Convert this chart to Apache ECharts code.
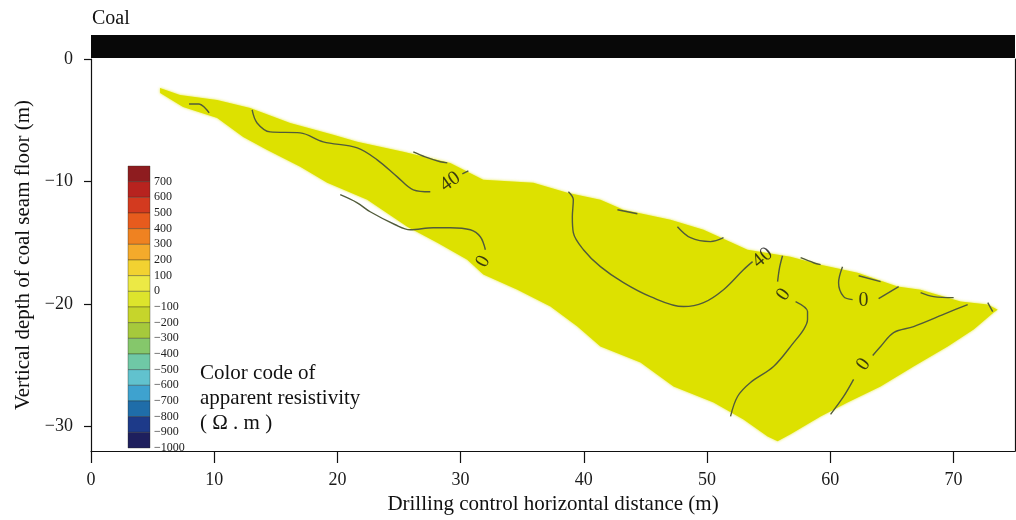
<!DOCTYPE html>
<html>
<head>
<meta charset="utf-8">
<script src="https://cdn.jsdelivr.net/npm/echarts@6/dist/echarts.min.js"></script>
<style>
  html, body { margin: 0; padding: 0; background: #fff; }
  #chart { width: 1016px; height: 520px; }
</style>
</head>
<body>
<div id="chart"></div>
<script>
// Axis ticks
const xTicks = [0, 10, 20, 30, 40, 50, 60, 70];
const yTicks = [0, -10, -20, -30];

// Coal seam above the floor (x range, thickness in m)
const coalLayer = [[0, 75, 0, 1]];

// Colour code of apparent resistivity (Ω·m), top to bottom
const scaleLevels = [700, 600, 500, 400, 300, 200, 100, 0, -100, -200, -300, -400, -500, -600, -700, -800, -900, -1000];
const scaleColors = ['#8e1c1f', '#b7231f', '#d33a1f', '#e75b1d', '#ef8221', '#f4aa2b', '#f2d231', '#ece945',
                     '#dde42c', '#c6d52b', '#a6c93c', '#85c76b', '#6fc8a6', '#61c2ce', '#3ea2cf', '#1f6da9',
                     '#1d3a89', '#1e1f5d'];

// Surveyed zone outline (x, depth)
const zoneOutline = [
  [5.6, -2.36], [7.23, -2.93], [10.24, -3.34], [12.92, -3.99], [16.17, -5.22], [19.66, -6.19],
  [21.61, -6.76], [25.35, -7.58], [29.16, -8.48], [31.84, -9.86], [35.91, -10.11], [38.67, -10.92],
  [41.35, -11.49], [43.22, -12.31], [47.04, -13.12], [49.72, -13.94], [53.29, -15.57], [56.78, -16.14],
  [59.22, -16.79], [62.23, -17.44], [65.47, -18.58], [67.34, -18.83], [70.59, -19.8], [72.79, -20.05],
  [73.6, -20.46], [73.27, -20.7], [71.65, -22.09], [69.54, -23.47], [66.77, -25.1], [64.09, -26.73],
  [61.41, -28.04], [59.22, -29.18], [56.78, -30.64], [55.73, -31.21], [54.92, -30.81], [52.96, -29.42],
  [50.53, -28.04], [47.28, -26.73], [44.6, -24.78], [41.35, -23.47], [39.48, -21.84], [37.29, -20.21],
  [34.61, -18.83], [31.84, -17.6], [30.54, -16.38], [28.11, -15.0], [25.67, -13.69], [22.42, -11.49],
  [19.17, -10.11], [16.98, -8.8], [14.3, -7.42], [12.35, -6.36], [10.24, -4.81], [7.47, -3.91], [5.61, -2.77]
];

// Resistivity contours (x, depth)
const c40a = [[13.08, -4.16], [13.48, -5.22], [14.54, -5.95], [16.98, -6.03], [18.85, -6.76], [21.61, -7.25],
              [23.23, -8.23], [24.86, -9.62], [26.16, -10.68], [27.54, -10.84]];
const c40aEnd = [[30.14, -9.37], [30.63, -9.13]];
const c40b = [[38.75, -10.84], [39.15, -11.49], [39.07, -12.88], [39.15, -14.18], [39.97, -15.57], [41.35, -16.95],
              [43.22, -18.26], [45.41, -19.4], [48.09, -20.21], [49.72, -19.89], [51.34, -18.83], [52.96, -17.2],
              [53.7, -16.54]];
const c0a = [[20.23, -11.08], [21.61, -11.74], [22.66, -12.47], [24.7, -13.53], [25.91, -13.94], [27.78, -13.77],
             [29.16, -13.77], [30.79, -13.94], [31.6, -14.51], [32.01, -15.57]];
const c0bTop = [[56.13, -16.06], [55.89, -17.03], [55.73, -18.17]];
const c0b = [[57.19, -19.8], [58.16, -20.62], [58.16, -21.27], [57.84, -22.09], [57.03, -23.15], [55.4, -25.1],
             [53.53, -26.41], [52.48, -27.55], [51.91, -29.18]];
const c0cTop = [[61.0, -16.95], [60.68, -18.26], [61.09, -19.4], [61.82, -19.64]];
const c0cEnd = [[63.93, -19.56], [65.56, -18.58]];
const c0dTop = [[71.16, -20.05], [69.54, -20.7], [66.77, -21.84], [65.15, -22.33], [64.09, -23.47], [63.45, -24.21]];
const c0dEnd = [[61.9, -26.16], [61.09, -27.55], [60.03, -29.01]];
const cEdge1 = [[7.96, -3.67], [8.77, -3.67], [9.26, -4.0], [9.59, -4.4]];
const cEdge2 = [[26.16, -7.58], [27.13, -7.99], [28.35, -8.39], [28.92, -8.48]];
const cEdge3 = [[42.73, -12.31], [44.35, -12.63]];
const cEdge4 = [[47.6, -13.69], [48.66, -14.59], [50.28, -14.91], [51.34, -14.59]];
const cEdge5 = [[57.6, -16.22], [58.65, -16.63], [59.22, -16.79]];
const cEdge6 = [[62.31, -17.69], [64.09, -18.17]];
const cEdge7 = [[67.34, -19.07], [68.4, -19.4], [70.02, -19.48]];
const cEdge8 = [[72.79, -19.89], [73.19, -20.62]];

const contourPaths = [c40a, c40aEnd, c40b, c0a, c0bTop, c0b, c0cTop, c0cEnd, c0dTop, c0dEnd,
                      cEdge1, cEdge2, cEdge3, cEdge4, cEdge5, cEdge6, cEdge7, cEdge8];

// Contour labels (x, depth, level)
const contourLabels = [[29.16, -10.02, 40], [31.84, -16.54, 0], [54.51, -16.22, 40],
                       [56.21, -19.23, 0], [62.71, -19.72, 0], [62.71, -24.94, 0]];

const serif = '"Liberation Serif", "DejaVu Serif", serif';
const zoneColor = '#dde100';
const lineColor = '#515b3a';
const labelTurn = [35, 60, 40, 55, 0, 55];
const minus = v => String(v).replace('-', '\u2212');

const chart = echarts.init(document.getElementById('chart'), null, { renderer: 'canvas' });

const contourSeries = contourPaths.map(path => ({
  type: 'line',
  xAxisIndex: 0, yAxisIndex: 0,
  data: path,
  smooth: 0.35,
  symbol: 'none',
  silent: true,
  lineStyle: { color: lineColor, width: 1.4 },
  z: 4
}));

const option = {
  animation: false,
  title: [
    { text: 'Coal', left: 87, top: 4, textStyle: { fontFamily: serif, fontSize: 20, fontWeight: 'normal', color: '#111' } },
    { text: 'Color code of\napparent resistivity\n( \u03A9 . m )', left: 195, top: 356,
      textStyle: { fontFamily: serif, fontSize: 21, fontWeight: 'normal', color: '#111', lineHeight: 25 } }
  ],
  grid: [
    { left: 91, right: 1, top: 59, bottom: 68 },
    { left: 91, right: 1, top: 35, height: 23 },
    { left: 128, width: 22, top: 166, height: 282 }
  ],
  xAxis: [
    {
      gridIndex: 0, type: 'value', min: 0, max: 75, position: 'bottom',
      axisLine: { onZero: false, lineStyle: { color: '#111', width: 1.2 } },
      axisTick: { customValues: xTicks, length: 12, lineStyle: { color: '#111', width: 1.2 } },
      axisLabel: { customValues: xTicks, margin: 20, fontFamily: serif, fontSize: 18, color: '#1a1a1a' },
      splitLine: { show: false },
      name: 'Drilling control horizontal distance (m)', nameLocation: 'middle', nameGap: 43,
      nameTextStyle: { fontFamily: serif, fontSize: 21, color: '#111' }
    },
    { gridIndex: 1, type: 'value', min: 0, max: 75, show: false },
    { gridIndex: 2, type: 'value', min: 0, max: 1, show: false }
  ],
  yAxis: [
    {
      gridIndex: 0, type: 'value', min: -32, max: 0,
      axisLine: { show: true, onZero: false, lineStyle: { color: '#111', width: 1.2 } },
      axisTick: { show: true, customValues: yTicks, length: 7, lineStyle: { color: '#111', width: 1.2 } },
      axisLabel: { customValues: yTicks, margin: 18, fontFamily: serif, fontSize: 18, color: '#1a1a1a', formatter: minus },
      splitLine: { show: false },
      name: 'Vertical depth of coal seam floor (m)', nameLocation: 'middle', nameGap: 56,
      nameTextStyle: { fontFamily: serif, fontSize: 21, color: '#111' }
    },
    {
      gridIndex: 0, type: 'value', min: -32, max: 0, position: 'right',
      axisLine: { show: true, onZero: false, lineStyle: { color: '#111', width: 1.2 } },
      axisTick: { show: false }, axisLabel: { show: false }, splitLine: { show: false }
    },
    { gridIndex: 1, type: 'value', min: 0, max: 1, show: false },
    {
      gridIndex: 2, type: 'value', min: 0, max: scaleLevels.length, inverse: true, position: 'right',
      axisLine: { show: false }, axisTick: { show: false }, splitLine: { show: false },
      axisLabel: {
        customValues: scaleLevels.map((_, i) => i + 1), margin: 4,
        fontFamily: serif, fontSize: 12, color: '#222',
        formatter: v => minus(scaleLevels[v - 1])
      }
    }
  ],
  series: [
    {
      // coal seam band
      type: 'custom', xAxisIndex: 1, yAxisIndex: 2, silent: true,
      data: coalLayer,
      renderItem: (params, api) => {
        const a = api.coord([api.value(0), api.value(3)]);
        const b = api.coord([api.value(1), api.value(2)]);
        return { type: 'rect', shape: { x: a[0], y: a[1], width: b[0] - a[0], height: b[1] - a[1] }, style: { fill: '#080808' } };
      }
    },
    {
      // surveyed zone
      type: 'custom', xAxisIndex: 0, yAxisIndex: 0, silent: true, clip: true,
      data: [[zoneOutline[0][0], zoneOutline[0][1]]],
      renderItem: (params, api) => ({
        type: 'polygon',
        shape: { points: zoneOutline.map(p => api.coord(p)) },
        style: { fill: zoneColor, shadowBlur: 3, shadowColor: 'rgba(221,225,0,0.8)' }
      }),
      z: 2
    },
    ...contourSeries,
    {
      // contour level labels
      type: 'scatter', xAxisIndex: 0, yAxisIndex: 0, silent: true,
      symbolSize: 0,
      data: contourLabels.map((d, i) => ({
        value: d,
        label: { rotate: labelTurn[i] }
      })),
      label: {
        show: true, position: 'inside', formatter: p => String(p.value[2]),
        fontFamily: serif, fontSize: 20, color: '#111'
      },
      z: 5
    },
    {
      // colour code bar
      type: 'custom', xAxisIndex: 2, yAxisIndex: 3, silent: true,
      data: scaleLevels.map((lv, i) => [i, lv]),
      renderItem: (params, api) => {
        const i = api.value(0);
        const a = api.coord([0, i]);
        const b = api.coord([1, i + 1]);
        return {
          type: 'rect',
          shape: { x: a[0], y: a[1], width: b[0] - a[0], height: b[1] - a[1] },
          style: { fill: scaleColors[i], stroke: 'rgba(40,40,30,0.45)', lineWidth: 0.8 }
        };
      }
    }
  ]
};

chart.setOption(option);
</script>
</body>
</html>
